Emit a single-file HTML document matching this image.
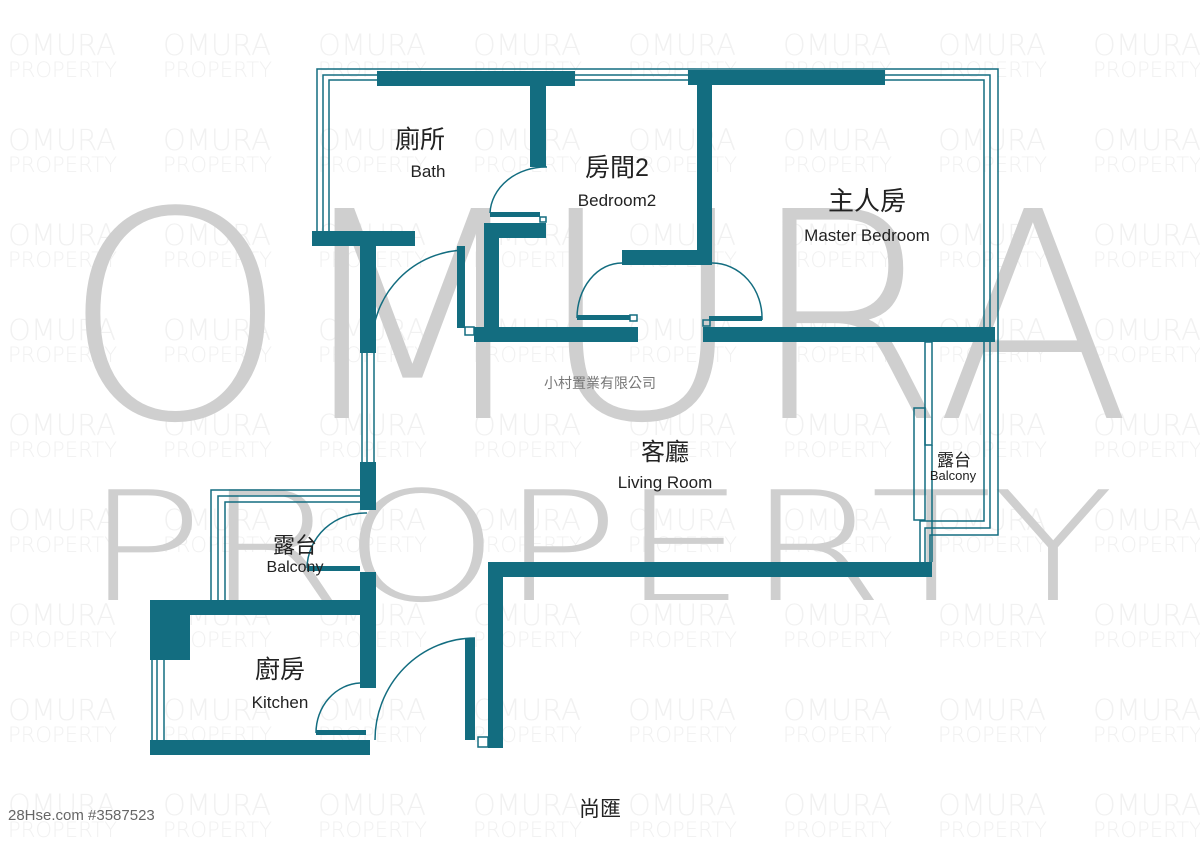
<!DOCTYPE html>
<html><head><meta charset="utf-8"><style>
html,body{margin:0;padding:0;background:#fff;width:1200px;height:848px;overflow:hidden}
svg{display:block}
.t{font-family:"Liberation Sans","Noto Sans CJK TC",sans-serif;fill:#222;text-anchor:middle}
.wm{font-family:"DejaVu Sans","Liberation Sans",sans-serif;fill:#f1f1f1;font-weight:200}
</style></head><body>
<svg width="1200" height="848" viewBox="0 0 1200 848" xmlns="http://www.w3.org/2000/svg">
<defs>
<g id="tile"><text class="wm" x="8" y="55" font-size="29" textLength="108" lengthAdjust="spacingAndGlyphs">OMURA</text><text class="wm" x="8" y="77" font-size="21" textLength="109" lengthAdjust="spacingAndGlyphs">PROPERTY</text></g>
<g id="row"><use href="#tile"/><use href="#tile" x="155"/><use href="#tile" x="310"/><use href="#tile" x="465"/><use href="#tile" x="620"/><use href="#tile" x="775"/><use href="#tile" x="930"/><use href="#tile" x="1085"/></g>
</defs>
<use href="#row"/><use href="#row" y="95"/><use href="#row" y="190"/><use href="#row" y="285"/><use href="#row" y="380"/><use href="#row" y="475"/><use href="#row" y="570"/><use href="#row" y="665"/><use href="#row" y="760"/>

<text x="62" y="418" font-family="DejaVu Sans,Liberation Sans,sans-serif" font-weight="200" font-size="288" fill="#cfcfcf" textLength="1070" lengthAdjust="spacingAndGlyphs">OMURA</text>
<text x="84" y="600" font-family="DejaVu Sans,Liberation Sans,sans-serif" font-weight="200" font-size="152" fill="#cfcfcf" textLength="1030" lengthAdjust="spacingAndGlyphs">PROPERTY</text>

<g fill="none" stroke="#136d80" stroke-width="1.5">
<!-- top/left/right window lines -->
<polyline points="317,232 317,69 998,69 998,535 930,535 930,562"/>
<polyline points="323,232 323,75 990,75 990,528 925,528 925,562"/>
<polyline points="329,232 329,80 984,80 984,521 920,521 920,562"/>
<!-- right balcony sliding doors -->
<rect x="925" y="342" width="7" height="103"/>
<rect x="914" y="408" width="11" height="112"/>
<line x1="932" y1="445" x2="932" y2="562"/>
<!-- living left window -->
<line x1="362" y1="353" x2="362" y2="462"/><line x1="367" y1="353" x2="367" y2="462"/><line x1="374" y1="353" x2="374" y2="462"/>
<!-- small balcony windows -->
<polyline points="211,600 211,490 360,490"/>
<polyline points="218,600 218,496 360,496"/>
<polyline points="225,600 225,502 360,502"/>
<!-- kitchen left window -->
<line x1="152" y1="660" x2="152" y2="740"/><line x1="157" y1="660" x2="157" y2="740"/><line x1="164" y1="660" x2="164" y2="740"/>
<!-- door arcs -->
<path d="M547,167 A56,48 0 0 0 490,213"/>
<path d="M465,250 A95,95 0 0 0 372,345"/>
<path d="M622,263 A45,55 0 0 0 577,318"/>
<path d="M712,263 A50,55 0 0 1 762,320"/>
<path d="M367,513 A58,56 0 0 0 307,568"/>
<path d="M360,683 A46,50 0 0 0 316,733"/>
<path d="M475,638 A100,102 0 0 0 375,740"/>
<rect x="465" y="327" width="9" height="8"/>
<rect x="630" y="315" width="7" height="6"/>
<rect x="703" y="320" width="7" height="6"/>
<rect x="540" y="217" width="6" height="5"/>
<rect x="478" y="737" width="10" height="10"/>
</g>

<g fill="#136d80">
<rect x="377" y="71" width="198" height="15"/>
<rect x="688" y="70" width="197" height="15"/>
<rect x="530" y="85" width="16" height="82"/>
<rect x="312" y="231" width="103" height="15"/>
<rect x="360" y="246" width="16" height="107"/>
<rect x="360" y="462" width="16" height="48"/>
<rect x="457" y="246" width="8" height="82"/>
<rect x="484" y="223" width="62" height="15"/>
<rect x="484" y="223" width="15" height="117"/>
<rect x="474" y="327" width="164" height="15"/>
<rect x="490" y="212" width="50" height="5"/>
<rect x="697" y="85" width="15" height="180"/>
<rect x="622" y="250" width="90" height="15"/>
<rect x="577" y="315" width="53" height="5"/>
<rect x="709" y="316" width="53" height="5"/>
<rect x="703" y="327" width="292" height="15"/>
<rect x="488" y="562" width="444" height="15"/>
<rect x="488" y="562" width="15" height="186"/>
<rect x="465" y="638" width="10" height="102"/>
<rect x="150" y="600" width="225" height="15"/>
<rect x="150" y="600" width="40" height="60"/>
<rect x="360" y="572" width="16" height="116"/>
<rect x="150" y="740" width="220" height="15"/>
<rect x="307" y="566" width="53" height="5"/>
<rect x="316" y="730" width="50" height="5"/>
</g>

<text class="t" x="420" y="148" font-size="25">廁所</text>
<text class="t" x="428" y="177" font-size="17">Bath</text>
<text class="t" x="617" y="176" font-size="25">房間2</text>
<text class="t" x="617" y="206" font-size="17">Bedroom2</text>
<text class="t" x="867" y="210" font-size="26">主人房</text>
<text class="t" x="867" y="241" font-size="17">Master Bedroom</text>
<text class="t" x="600" y="388" font-size="14" style="fill:#777">小村置業有限公司</text>
<text class="t" x="665" y="460" font-size="24">客廳</text>
<text class="t" x="665" y="488" font-size="17">Living Room</text>
<text class="t" x="954" y="466" font-size="17">露台</text>
<text class="t" x="953" y="480" font-size="13">Balcony</text>
<text class="t" x="295" y="553" font-size="22">露台</text>
<text class="t" x="295" y="572" font-size="16">Balcony</text>
<text class="t" x="280" y="678" font-size="25">廚房</text>
<text class="t" x="280" y="708" font-size="17">Kitchen</text>
<text class="t" x="600" y="816" font-size="21">尚匯</text>
<text x="8" y="820" font-family="Liberation Sans,sans-serif" font-size="15" fill="#666">28Hse.com #3587523</text>
</svg>
</body></html>
